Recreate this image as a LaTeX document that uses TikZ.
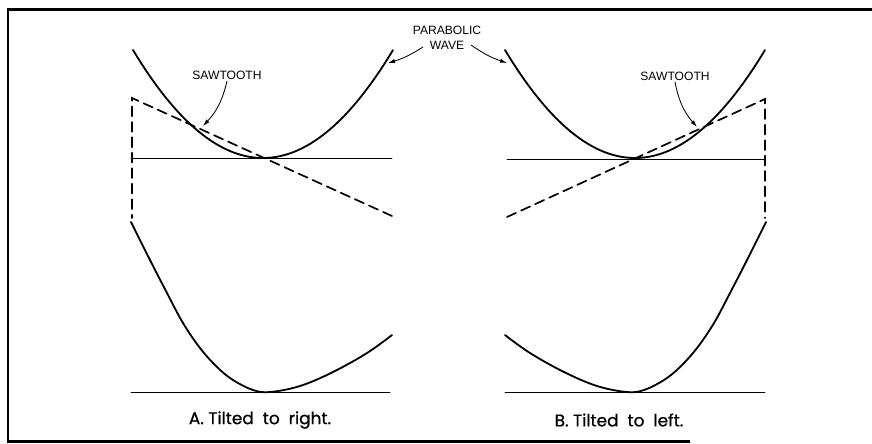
\documentclass[tikz,border=0pt]{standalone}
\usepackage{fontspec}
\setmainfont{Liberation Sans}
\newfontfamily\capfont[FakeBold=0.8]{Poppins}
\usepackage{tkz-euclide}
\usetikzlibrary{arrows.meta,calc}

\tikzset{
  wave/.style={line width=1.3pt,line cap=round},
  saw/.style={line width=1.2pt,dash pattern=on 7pt off 4pt},
  lbl/.style={font=\fontsize{8.6}{11}\selectfont,align=center,inner sep=1pt},
  ptr/.style={line width=0.6pt,-{Latex[length=5pt,width=3pt]}},
  captxt/.style={font=\capfont\fontsize{12}{14}\selectfont},
}

\begin{document}
\begin{tikzpicture}[x=0.025cm,y=-0.025cm]
\useasboundingbox (0,0) rectangle (872,443);
\tkzSetUpLine[line width=0.6pt,color=black]

% frame (open on the right)
\draw[line width=2pt] (872,9.5) -- (8,9.5) -- (8,441.5) -- (690,441.5);

\tkzDefPoints{132/98/A1,392/216/A2,132/218/A3,131/158/A4,392/158/A5,131/392/A6,390/392/A7}
\tkzDefPoints{765/99/B1,507/217/B2,765/218/B3,507/159/B4,765/159/B5,505/392/B6,765/392/B7}
% ends of the pointers
\tkzDefPoints{203/126/sA,388/63/pA,507/63/pB,697/127/sB,423/47/tA,471/45/tB}

% base lines
\tkzDrawSegments[line width=0.6pt](A4,A5 A6,A7 B4,B5 B6,B7)

% sawtooth
\tkzDrawPolySeg[saw](A2,A1,A3)
\tkzDrawPolySeg[saw](B2,B1,B3)

% parabolic wave
\draw[wave] plot[domain=-1:1,samples=61] ({263+130*\x},{158-108*\x*\x});
\draw[wave] plot[domain=-1:1,samples=61] ({635+130*\x},{158-108*\x*\x});

% tilted waves
\draw[wave] plot[smooth,tension=0.6] coordinates {(131,222) (150,260) (167,293) (183,323)
  (200,348) (217,367) (233,380) (253,390) (270,392) (300,386) (333,372) (367,353) (392,335)};
\draw[wave] plot[smooth,tension=0.6] coordinates {(766,222) (747,260) (730,293) (714,323)
  (697,348) (680,367) (664,380) (644,390) (627,392) (597,386) (564,372) (530,353) (505,335)};

% labels
\node[lbl] (sawA) at (227,75) {SAWTOOTH};
\node[lbl] (sawB) at (675,76) {SAWTOOTH};
\node[lbl] (pw) at (447,38) {PARABOLIC\\WAVE};
\draw[ptr] (sawA.south) to[bend left=15] (sA);
\draw[ptr] (sawB.south) to[bend right=15] (sB);
\draw[ptr] (tA) to[bend left=8] (pA);
\draw[ptr] (tB) to[bend right=8] (pB);

\node[captxt] (capA) at (260,420) {A. Tilted~ to~ right.};
\node[captxt] (capB) at (619,420) {B. Tilted~ to~ left.};

\end{tikzpicture}
\end{document}
